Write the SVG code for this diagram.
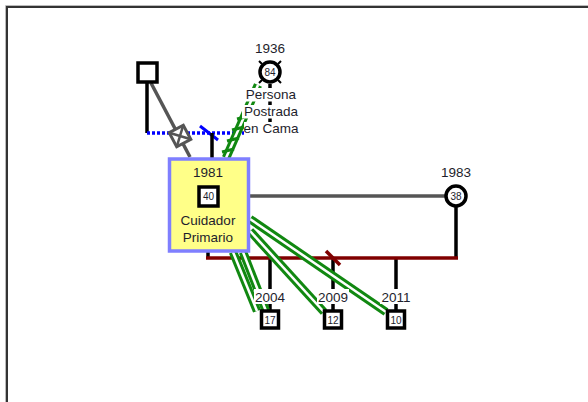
<svg xmlns="http://www.w3.org/2000/svg" width="588" height="402" viewBox="0 0 588 402">
<style>
text{font-family:"Liberation Sans",Arial,sans-serif;font-size:13.5px;fill:#1e1e2c;text-anchor:middle}
.num{font-size:10px}
.blk{stroke:#000;stroke-width:3.5;fill:none}
.gray{stroke:#555;stroke-width:3.5;fill:none}
.red{stroke:#800000;stroke-width:3.5;fill:none}
.gw{stroke:#118811;stroke-width:8.5;fill:none}
.gi{stroke:#fff;stroke-width:2.5;fill:none}
.gt{stroke:#118811;stroke-width:3;fill:none}
.sq{fill:#fff;stroke:#000;stroke-width:3.5}
.lbl{fill:#fff}
</style>
<rect x="0" y="0" width="588" height="402" fill="#fff"/>
<path d="M5.5 402 V5.5 H588" fill="none" stroke="#bbb" stroke-width="1"/>
<path d="M7 402 V7 H588" fill="none" stroke="#333" stroke-width="2"/>

<g id="connectors">
  <line class="blk" x1="147" y1="82" x2="147" y2="133"/>
  <line x1="147" y1="133" x2="244" y2="133" stroke="#0000ff" stroke-width="3.5" stroke-dasharray="3 2"/>
  <line x1="200" y1="126" x2="218" y2="140" stroke="#0000ff" stroke-width="3"/>
  <line class="blk" x1="212" y1="133" x2="212" y2="158"/>
  <line class="gray" x1="151" y1="83" x2="190" y2="157"/>
  <g transform="translate(180,136) rotate(62)">
    <rect x="-8" y="-8" width="16" height="16" style="fill:#fff;stroke:#555;stroke-width:3"/>
    <path d="M-8 -8 L8 8 M8 -8 L-8 8" style="stroke:#555;stroke-width:2.5;fill:none"/>
  </g>
  <line class="blk" x1="270" y1="84" x2="270" y2="128"/>
  <path class="gw" d="M226 158 L258 85"/>
  <path class="gi" d="M226 158 L258 85"/>
  <path class="gt" d="M222 152 L234 149 M227 141 L239 138 M232 130 L244 127 M237 119 L249 116"/>
  <line class="gray" x1="250" y1="196" x2="446" y2="196"/>
  <line class="blk" x1="456" y1="207" x2="456" y2="258"/>
  <line class="blk" x1="208" y1="252" x2="208" y2="258"/>
  <line class="blk" x1="270" y1="258" x2="270" y2="311"/>
  <line class="blk" x1="333" y1="258" x2="333" y2="311"/>
  <line class="blk" x1="396" y1="258" x2="396" y2="311"/>
  <line class="red" x1="206" y1="258" x2="458" y2="258"/>
  <line x1="326" y1="251" x2="340" y2="265" stroke="#800000" stroke-width="3.5"/>
  <path class="gw" d="M250 219 L386 312"/>
  <path class="gw" d="M250 231 L324 312"/>
  <path class="gw" d="M233 252 L257 311"/>
  <path class="gw" d="M243 252 L266 311"/>
  <path class="gi" d="M250 219 L386 312"/>
  <path class="gi" d="M250 231 L324 312"/>
  <path class="gi" d="M233 252 L257 311"/>
  <path class="gi" d="M243 252 L266 311"/>
</g>

<g id="father">
  <rect class="sq" x="138" y="63" width="19" height="19"/>
</g>

<g id="persona-postrada">
  <text x="270" y="53">1936</text>
  <path d="M262 64 l-3 -3 M278 64 l3 -3 M278 80 l3 3 M262 80 l-3 3" stroke="#000" stroke-width="2"/>
  <circle cx="270" cy="72" r="10" fill="#fff" stroke="#000" stroke-width="3.5"/>
  <text class="num" x="270" y="76">84</text>
  <rect class="lbl" x="244" y="88" width="54" height="13.5"/>
  <rect class="lbl" x="242" y="105" width="58" height="13.5"/>
  <rect class="lbl" x="244" y="122" width="55" height="14"/>
  <text x="271" y="99">Persona</text>
  <text x="271" y="116">Postrada</text>
  <text x="271" y="133">en Cama</text>
</g>

<g id="cuidador">
  <rect x="169.5" y="159" width="79" height="92" fill="#ffff88" stroke="#7f7fff" stroke-width="3.5"/>
  <text x="208" y="177">1981</text>
  <rect class="sq" x="199" y="187" width="19" height="19"/>
  <text class="num" x="208.5" y="200">40</text>
  <text x="208" y="225">Cuidador</text>
  <text x="208" y="242">Primario</text>
</g>

<g id="pareja">
  <text x="456" y="177">1983</text>
  <circle cx="456" cy="196" r="10" fill="#fff" stroke="#000" stroke-width="3.5"/>
  <text class="num" x="456" y="200">38</text>
</g>

<g id="hijo-2004">
  <rect class="lbl" x="254" y="289" width="32" height="15"/>
  <text x="270" y="302">2004</text>
  <rect class="sq" x="261.5" y="311" width="17" height="17"/>
  <text class="num" x="270" y="323.5">17</text>
</g>
<g id="hijo-2009">
  <rect class="lbl" x="317" y="289" width="32" height="15"/>
  <text x="333" y="302">2009</text>
  <rect class="sq" x="324.5" y="311" width="17" height="17"/>
  <text class="num" x="333" y="323.5">12</text>
</g>
<g id="hijo-2011">
  <rect class="lbl" x="380" y="289" width="32" height="15"/>
  <text x="396" y="302">2011</text>
  <rect class="sq" x="387.5" y="311" width="17" height="17"/>
  <text class="num" x="396" y="323.5">10</text>
</g>
</svg>
